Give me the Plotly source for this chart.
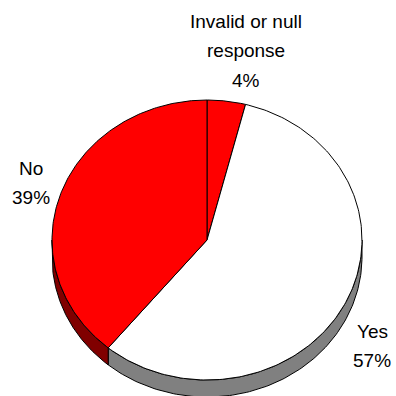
import numpy as np
import plotly.graph_objects as go

# Survey response shares (percent), drawn clockwise from 12 o'clock
categories = ["Invalid or null response", "Yes", "No"]
values = [4, 57, 39]
label_lines = [["Invalid or null", "response", "4%"], ["Yes", "57%"], ["No", "39%"]]

top_colors = ["#FF0000", "#FFFFFF", "#FF0000"]
side_colors = ["#800000", "#808080", "#800000"]

# Tilted-pie geometry in pixel units of the plot area
W = H = 396
cx, cy = 207, 240
rx, ry = 155, 140
depth = 17


def rim(theta_deg, drop=0.0):
    t = np.radians(theta_deg)
    return cx + rx * np.sin(t), cy - ry * np.cos(t) + drop


fig = go.Figure()

total = float(sum(values))
bounds = np.concatenate([[0.0], np.cumsum(values) / total * 360.0])

# Visible side walls (front half of the rim: 90..270 degrees)
for i in range(len(values)):
    s, e = max(bounds[i], 90.0), min(bounds[i + 1], 270.0)
    if e <= s:
        continue
    th = np.linspace(s, e, 120)
    xt, yt = rim(th)
    xb, yb = rim(th[::-1], depth)
    xs = np.concatenate([xt, xb, xt[:1]])
    ys = np.concatenate([yt, yb, yt[:1]])
    fig.add_trace(go.Scatter(x=xs, y=ys, mode="lines", fill="toself",
                             fillcolor=side_colors[i],
                             line=dict(color="#000000", width=1),
                             hoverinfo="skip", showlegend=False))

# Top faces of the slices
for i in range(len(values)):
    th = np.linspace(bounds[i], bounds[i + 1], 200)
    xa, ya = rim(th)
    xs = np.concatenate([[cx], xa, [cx]])
    ys = np.concatenate([[cy], ya, [cy]])
    fig.add_trace(go.Scatter(x=xs, y=ys, mode="lines", fill="toself",
                             fillcolor=top_colors[i],
                             line=dict(color="#000000", width=1),
                             hoverinfo="skip", showlegend=False))

# Category labels with percentages
label_pos = [(246, 21), (372, 331), (31, 168)]
line_gap = 29.5
annotations = []
for (lx, ly), lines in zip(label_pos, label_lines):
    for k, txt in enumerate(lines):
        annotations.append(dict(x=lx, y=ly + k * line_gap, text=txt,
                                xref="x", yref="y", showarrow=False,
                                xanchor="center", yanchor="middle",
                                font=dict(family="Arial, Liberation Sans",
                                          size=19, color="#000000")))

fig.update_layout(
    width=W, height=H,
    margin=dict(l=0, r=0, t=0, b=0),
    paper_bgcolor="#FFFFFF", plot_bgcolor="#FFFFFF",
    xaxis=dict(range=[0, W], visible=False, fixedrange=True),
    yaxis=dict(range=[H, 0], visible=False, fixedrange=True),
    annotations=annotations,
)

fig.write_html("out.html")
